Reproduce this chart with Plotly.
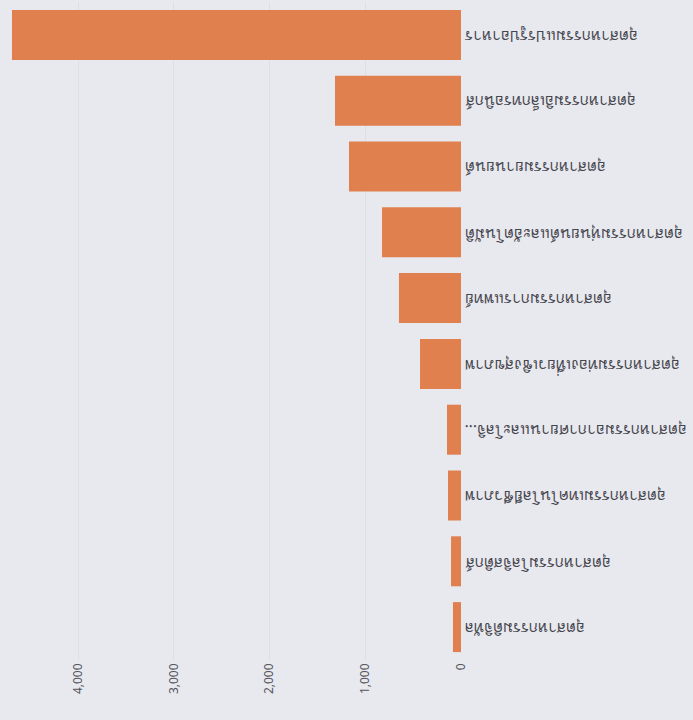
import plotly.graph_objects as go

categories = [
    "อุตสาหกรรมแปรรูปอาหาร",
    "อุตสาหกรรมอิเล็กทรอนิกส์",
    "อุตสาหกรรมยานยนต์",
    "อุตสาหกรรมหุ่นยนต์และอัตโนมัติ",
    "อุตสาหกรรมการแพทย์",
    "อุตสาหกรรมท่องเที่ยวเชิงสุขภาพ",
    "อุตสาหกรรมอากาศยานและโลจิ...",
    "อุตสาหกรรมเทคโนโลยีชีวภาพ",
    "อุตสาหกรรมโลจิสติกส์",
    "อุตสาหกรรมดิจิทัล",
]
values = [4690, 1316, 1170, 825, 648, 428, 146, 136, 104, 84]
tick_vals = [0, 1000, 2000, 3000, 4000]

fig = go.Figure(go.Bar(
    x=values, y=categories, orientation="h",
    marker=dict(color="#E0804F", line=dict(width=0)),
))

# category labels, printed upside down to the right of the value axis origin
for cat in categories:
    fig.add_annotation(
        x=1, xref="paper", y=cat, yref="y",
        text=cat, showarrow=False, textangle=180,
        xanchor="left", yanchor="middle", xshift=2, yshift=-2,
        font=dict(size=15.5, color="#46464e"),
    )

fig.update_layout(
    width=693, height=720,
    margin=dict(l=0, r=232, t=2, b=60, autoexpand=False),
    paper_bgcolor="#E8E9EE",
    plot_bgcolor="#E8E9EE",
    bargap=0.24,
    showlegend=False,
    font=dict(family="Noto Sans, DejaVu Sans, sans-serif", color="#4A4A52"),
)
fig.update_xaxes(
    range=[4815, 0],
    tickvals=tick_vals,
    tickformat=",",
    tickangle=-90,
    tickfont=dict(size=12, color="#55555c"),
    showgrid=True, gridcolor="#DEDFE4", gridwidth=1,
    zeroline=False, showline=False,
    automargin=False,
)
fig.update_yaxes(
    categoryorder="array", categoryarray=categories[::-1],
    showticklabels=False,
    showgrid=False, zeroline=False, showline=False,
    ticks="",
    automargin=False,
)

fig.write_html(
    "out.html",
    config={"displayModeBar": False},
    post_script="document.body.style.margin='0';document.body.style.background='#E8E9EE';",
)
